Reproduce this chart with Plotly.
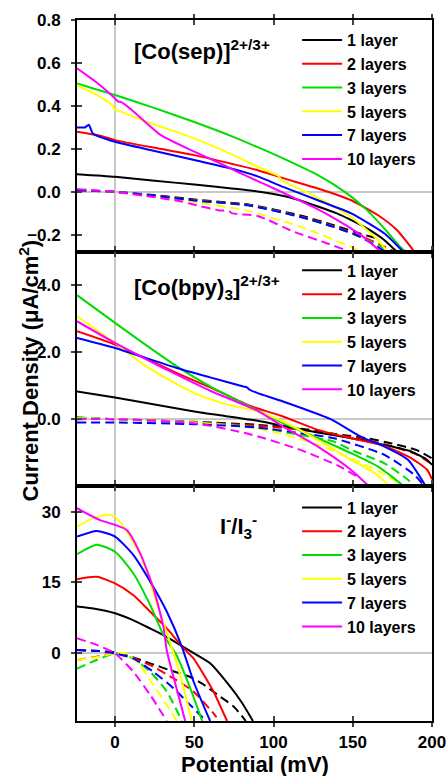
import plotly.graph_objects as go

# ---------------- labels / styles ----------------
LAYER_NAMES = ["1 layer", "2 layers", "3 layers", "5 layers", "7 layers", "10 layers"]
LAYER_COLORS = ["#000000", "#ff0000", "#00dd00", "#ffff00", "#0000ff", "#ff00ff"]

X_TICKS = [0, 50, 100, 150, 200]
SEP_TICKS = [-0.2, 0.0, 0.2, 0.4, 0.6, 0.8]
BPY_TICKS = [0.0, 2.0, 4.0]
IOD_TICKS = [0, 15, 30]

# ---------------- [Co(sep)]2+/3+ (top) ----------------
SEP_S1_V = [-24, 0, 25, 50, 75, 90, 110, 128, 140, 150, 160, 170, 178]
SEP_S1_J = [0.082, 0.070, 0.052, 0.034, 0.015, 0.002, -0.025, -0.068, -0.100, -0.135, -0.175, -0.225, -0.280]
SEP_S2_V = [-24, -10, 0, 25, 50, 75, 90, 106, 128, 149, 166, 178, 189]
SEP_S2_J = [0.280, 0.262, 0.241, 0.205, 0.171, 0.128, 0.101, 0.064, 0.016, -0.039, -0.109, -0.179, -0.280]
SEP_S3_V = [-24, 0, 25, 50, 75, 90, 106, 128, 145, 159, 170, 180, 184]
SEP_S3_J = [0.505, 0.451, 0.390, 0.325, 0.255, 0.208, 0.156, 0.078, 0.000, -0.085, -0.171, -0.256, -0.280]
SEP_S5_V = [-24, -10, -2, -0.5, 2, 15, 29, 50, 75, 90, 100, 103, 105, 117, 128, 149, 166, 172]
SEP_S5_J = [0.497, 0.445, 0.405, 0.385, 0.378, 0.340, 0.303, 0.249, 0.170, 0.117, 0.085, 0.075, 0.055, 0.012, -0.028, -0.117, -0.225, -0.280]
SEP_S7_V = [-24, -19, -16.5, -14, 0, 25, 50, 75, 90, 106, 128, 149, 170, 182]
SEP_S7_J = [0.300, 0.300, 0.312, 0.272, 0.233, 0.190, 0.148, 0.105, 0.072, 0.023, -0.039, -0.100, -0.194, -0.280]
SEP_S10_V = [-24, -10, 0, 2, 4, 10, 29, 50, 70, 79, 90, 100, 112, 125, 140, 155, 168]
SEP_S10_J = [0.575, 0.500, 0.435, 0.420, 0.418, 0.385, 0.264, 0.187, 0.120, 0.087, 0.050, 0.017, -0.025, -0.070, -0.130, -0.200, -0.280]

SEP_D1_V = [-24, 0, 25, 50, 85, 117, 138, 155, 165]
SEP_D1_J = [0.008, 0.0, -0.015, -0.035, -0.060, -0.110, -0.155, -0.195, -0.216]
SEP_D2_V = [-24, 0, 25, 50, 85, 117, 138, 155, 170, 177]
SEP_D2_J = [0.010, 0.0, -0.018, -0.038, -0.062, -0.115, -0.160, -0.205, -0.255, -0.280]
SEP_D3_V = [-24, 0, 25, 50, 85, 117, 138, 155, 168, 175]
SEP_D3_J = [0.010, 0.0, -0.018, -0.040, -0.063, -0.117, -0.163, -0.210, -0.255, -0.280]
SEP_D5_V = [-24, 0, 25, 50, 82, 117, 149, 156]
SEP_D5_J = [0.010, 0.0, -0.022, -0.048, -0.085, -0.163, -0.256, -0.280]
SEP_D7_V = [-24, 0, 25, 50, 85, 117, 138, 155, 171]
SEP_D7_J = [0.008, 0.0, -0.018, -0.040, -0.064, -0.117, -0.163, -0.210, -0.280]
SEP_D10_V = [-24, 0, 25, 42, 50, 65, 72, 74, 90, 113, 134, 149]
SEP_D10_J = [0.012, 0.0, -0.025, -0.045, -0.060, -0.085, -0.090, -0.100, -0.112, -0.186, -0.240, -0.280]

# ---------------- [Co(bpy)3]2+/3+ (middle) ----------------
BPY_S1_V = [-24, 0, 25, 50, 70, 83, 90, 106, 128, 149, 170, 187, 197, 200]
BPY_S1_J = [0.83, 0.65, 0.44, 0.23, 0.09, 0.0, -0.05, -0.20, -0.40, -0.57, -0.77, -0.97, -1.22, -1.37]
BPY_S2_V = [-24, 0, 20, 39, 60, 85, 90, 106, 128, 149, 170, 187, 197, 200]
BPY_S2_J = [2.63, 2.23, 1.80, 1.38, 0.95, 0.40, 0.32, 0.08, -0.32, -0.57, -0.80, -1.17, -1.52, -1.80]
BPY_S3_V = [-24, 0, 20, 39, 60, 85, 100, 106, 128, 149, 166, 180, 182]
BPY_S3_J = [3.71, 2.88, 2.20, 1.58, 0.98, 0.38, 0.02, -0.12, -0.57, -1.02, -1.42, -1.92, -2.0]
BPY_S5_V = [-24, 0, 18, 35, 50, 70, 90, 106, 128, 149, 165, 173]
BPY_S5_J = [3.08, 2.28, 1.63, 1.15, 0.78, 0.45, 0.23, -0.07, -0.62, -1.22, -1.65, -2.0]
BPY_S7_V = [-24, 0, 39, 60, 81, 83, 85, 90, 106, 136, 155, 170, 185, 191, 196]
BPY_S7_J = [2.43, 2.13, 1.53, 1.25, 0.98, 0.96, 0.88, 0.78, 0.53, 0.0, -0.52, -0.82, -1.22, -1.62, -2.0]
BPY_S10_V = [-24, 0, 20, 39, 60, 90, 106, 128, 149, 160]
BPY_S10_J = [2.93, 2.28, 1.78, 1.33, 0.85, 0.25, -0.22, -0.82, -1.52, -2.0]

BPY_D1_V = [-24, 0, 50, 90, 120, 140, 159, 174, 190, 200]
BPY_D1_J = [0.05, 0.0, -0.08, -0.17, -0.30, -0.45, -0.57, -0.72, -0.92, -1.17]
BPY_D2_V = [-24, 0, 50, 90, 120, 140, 159, 174, 190, 200]
BPY_D2_J = [0.0, 0.0, -0.10, -0.20, -0.33, -0.48, -0.62, -0.80, -1.05, -1.35]
BPY_D3_V = [-24, 0, 50, 90, 120, 138, 149, 170, 185, 189]
BPY_D3_J = [0.05, 0.0, -0.10, -0.25, -0.50, -0.67, -0.92, -1.32, -1.82, -2.0]
BPY_D5_V = [-24, 0, 50, 90, 110, 130, 150, 170, 182]
BPY_D5_J = [0.03, 0.0, -0.10, -0.28, -0.50, -0.80, -1.20, -1.65, -2.0]
BPY_D7_V = [-24, 0, 50, 90, 117, 138, 170, 189, 195]
BPY_D7_J = [-0.10, -0.10, -0.15, -0.25, -0.42, -0.57, -1.07, -1.67, -2.0]
BPY_D10_V = [-24, 0, 50, 85, 117, 142, 152]
BPY_D10_J = [0.0, 0.0, -0.12, -0.45, -0.92, -1.42, -1.70]

# ---------------- I-/I3- (bottom) ----------------
IOD_S1_V = [-24, -12, 0, 11, 22, 32, 41, 52, 60, 72.8, 80, 87]
IOD_S1_J = [9.9, 9.4, 8.5, 7.1, 5.3, 3.6, 1.8, -0.4, -2.1, -7.1, -10.4, -14.3]
IOD_S2_V = [-24, -11.6, 0, 11.6, 22.2, 32.7, 43.2, 49.6, 56, 62.2, 70.7]
IOD_S2_J = [15.7, 16.2, 14.8, 12.3, 8.8, 5.3, 1.1, -1.1, -4.5, -8.1, -14.3]
IOD_S3_V = [-24, -11.6, 0, 11.6, 22.2, 30.6, 39, 47.5, 55]
IOD_S3_J = [21.0, 23.0, 21.5, 16.9, 10.2, 3.9, -0.5, -7.4, -14.3]
IOD_S5_V = [-24, -14, -5, 0, 6, 16, 24, 31, 37, 43, 48.5]
IOD_S5_J = [26.8, 28.6, 29.3, 28.9, 26.5, 20.8, 13.0, 6.0, 0.0, -7.0, -14.3]
IOD_S7_V = [-24, -11.6, 0, 11.6, 22.2, 32.7, 42.2, 49.6, 60]
IOD_S7_J = [24.7, 25.9, 24.7, 20.8, 15.2, 8.8, 1.4, -6.0, -14.3]
IOD_S10_V = [-24, -9.5, 0, 7.4, 15.8, 24.2, 30.6, 32.7, 36.9, 44.3]
IOD_S10_J = [30.7, 28.2, 27.2, 26.1, 21.2, 13.8, 5.5, 0.5, -5.0, -14.3]

IOD_D1_V = [-24, -10, 0, 10, 22.2, 35, 47.5, 55, 66.5, 75, 82.5]
IOD_D1_J = [0.7, 0.5, 0.2, -0.7, -2.1, -3.6, -5.0, -6.4, -9.2, -11.3, -14.3]
IOD_D2_V = [-24, -10, 0, 10, 22.2, 37, 49.6, 62.2, 64]
IOD_D2_J = [-1.4, -0.6, 0.0, -0.8, -2.5, -5.3, -8.1, -12.7, -13.5]
IOD_D3_V = [-24, -11.6, 0, 11.6, 22.2, 32.7, 42.2]
IOD_D3_J = [-3.2, -1.4, 0.0, -1.1, -3.9, -8.1, -14.3]
IOD_D5_V = [-24, -10, 0, 7.4, 15.8, 24.2, 32.7, 39]
IOD_D5_J = [-1.4, -0.7, 0.0, 0.0, -2.5, -6.7, -10.9, -14.3]
IOD_D7_V = [-24, -10, 0, 11.6, 24.2, 37, 45.3, 56]
IOD_D7_J = [0.7, 0.5, 0.0, -1.1, -3.9, -7.4, -10.2, -13.8]
IOD_D10_V = [-24, -11.6, 0, 11.6, 22.2, 32.7]
IOD_D10_J = [3.2, 1.8, 0.0, -3.9, -8.8, -14.3]

PANELS = [
    dict(solid=[(SEP_S1_V, SEP_S1_J), (SEP_S2_V, SEP_S2_J), (SEP_S3_V, SEP_S3_J),
                (SEP_S5_V, SEP_S5_J), (SEP_S7_V, SEP_S7_J), (SEP_S10_V, SEP_S10_J)],
         dashed=[(SEP_D1_V, SEP_D1_J), (SEP_D2_V, SEP_D2_J), (SEP_D3_V, SEP_D3_J),
                 (SEP_D5_V, SEP_D5_J), (SEP_D7_V, SEP_D7_J), (SEP_D10_V, SEP_D10_J)]),
    dict(solid=[(BPY_S1_V, BPY_S1_J), (BPY_S2_V, BPY_S2_J), (BPY_S3_V, BPY_S3_J),
                (BPY_S5_V, BPY_S5_J), (BPY_S7_V, BPY_S7_J), (BPY_S10_V, BPY_S10_J)],
         dashed=[(BPY_D1_V, BPY_D1_J), (BPY_D2_V, BPY_D2_J), (BPY_D3_V, BPY_D3_J),
                 (BPY_D5_V, BPY_D5_J), (BPY_D7_V, BPY_D7_J), (BPY_D10_V, BPY_D10_J)]),
    dict(solid=[(IOD_S1_V, IOD_S1_J), (IOD_S2_V, IOD_S2_J), (IOD_S3_V, IOD_S3_J),
                (IOD_S5_V, IOD_S5_J), (IOD_S7_V, IOD_S7_J), (IOD_S10_V, IOD_S10_J)],
         dashed=[(IOD_D1_V, IOD_D1_J), (IOD_D2_V, IOD_D2_J), (IOD_D3_V, IOD_D3_J),
                 (IOD_D5_V, IOD_D5_J), (IOD_D7_V, IOD_D7_J), (IOD_D10_V, IOD_D10_J)]),
]

X_RANGE = [-24, 200]
Y_RANGES = [[-0.28, 0.8], [-2.0, 5.0], [-14.3, 35.4]]
Y_TICKS = [SEP_TICKS, BPY_TICKS, IOD_TICKS]
Y_FORMATS = [".1f", ".1f", "d"]
DOMAINS = [[0.669, 1.0], [0.3352, 0.669], [0.0, 0.3352]]
LEGEND_KEYS = ["legend", "legend2", "legend3"]
LEGEND_Y = [0.9957, 0.6670, 0.3288]

FONT = "Liberation Sans, Arial, sans-serif"
fig = go.Figure()

for p, panel in enumerate(PANELS):
    xa = "x" if p == 0 else f"x{p + 1}"
    ya = "y" if p == 0 else f"y{p + 1}"
    for k in range(6):
        v, j = panel["dashed"][k]
        fig.add_trace(go.Scatter(x=v, y=j, mode="lines", xaxis=xa, yaxis=ya,
                                 line=dict(color=LAYER_COLORS[k], width=2, dash="9px,5px",
                                           shape="spline", smoothing=0.6),
                                 showlegend=False, hoverinfo="skip"))
    for k in range(6):
        v, j = panel["solid"][k]
        fig.add_trace(go.Scatter(x=v, y=j, mode="lines", xaxis=xa, yaxis=ya,
                                 name=LAYER_NAMES[k], legend=LEGEND_KEYS[p],
                                 line=dict(color=LAYER_COLORS[k], width=2,
                                           shape="spline", smoothing=0.6)))
    # overlay axes (inside half of crossing ticks)
    fig.add_trace(go.Scatter(x=[], y=[], xaxis=f"x{p + 4}", yaxis=f"y{p + 4}",
                             showlegend=False, hoverinfo="skip"))

layout = dict(
    width=447, height=776,
    margin=dict(l=77, r=15, t=20, b=55, autoexpand=False),
    paper_bgcolor="white", plot_bgcolor="white",
    font=dict(family=FONT, size=17, color="black", weight="bold"),
    showlegend=True,
)

for p in range(3):
    xk = "xaxis" if p == 0 else f"xaxis{p + 1}"
    yk = "yaxis" if p == 0 else f"yaxis{p + 1}"
    xa = "x" if p == 0 else f"x{p + 1}"
    ya = "y" if p == 0 else f"y{p + 1}"
    layout[xk] = dict(domain=[0, 1], anchor=ya, range=X_RANGE, tickvals=X_TICKS,
                      showticklabels=(p == 2), ticks="outside", ticklen=4, tickwidth=1.5,
                      showline=True, linewidth=1.8, linecolor="black", mirror="ticks",
                      showgrid=False, zeroline=True, zerolinecolor="#c8c8c8", zerolinewidth=1.5,
                      automargin=False, ticklabelstandoff=1,
                      tickfont=dict(size=17, family=FONT, weight="bold"))
    layout[yk] = dict(domain=DOMAINS[p], anchor=xa, range=Y_RANGES[p], tickvals=Y_TICKS[p],
                      tickformat=Y_FORMATS[p], ticks="outside", ticklen=4, tickwidth=1.5,
                      showline=True, linewidth=1.8, linecolor="black", mirror=True,
                      showgrid=False, zeroline=True, zerolinecolor="#c8c8c8", zerolinewidth=1.5,
                      automargin=False, ticklabelstandoff=7,
                      tickfont=dict(size=17, family=FONT, weight="bold"))
    layout[f"xaxis{p + 4}"] = dict(overlaying=xa, anchor=f"y{p + 4}", range=X_RANGE, tickvals=X_TICKS,
                                   showticklabels=False, ticks="inside", ticklen=5, tickwidth=1.5,
                                   showline=True, linewidth=1.8, linecolor="black", mirror="ticks",
                                   showgrid=False, zeroline=False, automargin=False)
    layout[f"yaxis{p + 4}"] = dict(overlaying=ya, anchor=f"x{p + 4}", range=Y_RANGES[p], tickvals=Y_TICKS[p],
                                   showticklabels=False, ticks="inside", ticklen=5, tickwidth=1.5,
                                   showline=False, showgrid=False, zeroline=False, automargin=False)
    layout[LEGEND_KEYS[p]] = dict(x=0.62, y=LEGEND_Y[p], xanchor="left", yanchor="top",
                                  bgcolor="rgba(0,0,0,0)", tracegroupgap=0, itemwidth=40,
                                  font=dict(size=16, family=FONT, weight="bold"))

fig.update_layout(**layout)

ANN_FONT = dict(size=22, family=FONT, color="black", weight="bold")
fig.add_annotation(text="[Co(sep)]<sup>2+/3+</sup>", xref="paper", yref="paper",
                   x=0.155, y=0.957, xanchor="left", yanchor="middle", showarrow=False, font=ANN_FONT)
fig.add_annotation(text="[Co(bpy)<sub>3</sub>]<sup>2+/3+</sup>", xref="paper", yref="paper",
                   x=0.155, y=0.618, xanchor="left", yanchor="middle", showarrow=False, font=ANN_FONT)
fig.add_annotation(text="I<sup>-</sup>/I<sub>3</sub><sup>-</sup>", xref="paper", yref="paper",
                   x=0.397, y=0.277, xanchor="left", yanchor="middle", showarrow=False, font=ANN_FONT)
fig.add_annotation(text="Current Density (μA/cm<sup>2</sup>)", xref="paper", yref="paper",
                   x=-0.138, y=0.5, xanchor="center", yanchor="middle", textangle=-90,
                   showarrow=False, font=ANN_FONT)
fig.add_annotation(text="Potential (mV)", xref="paper", yref="paper",
                   x=0.5, y=-0.0625, xanchor="center", yanchor="middle",
                   showarrow=False, font=ANN_FONT)

fig.write_html("out.html")
